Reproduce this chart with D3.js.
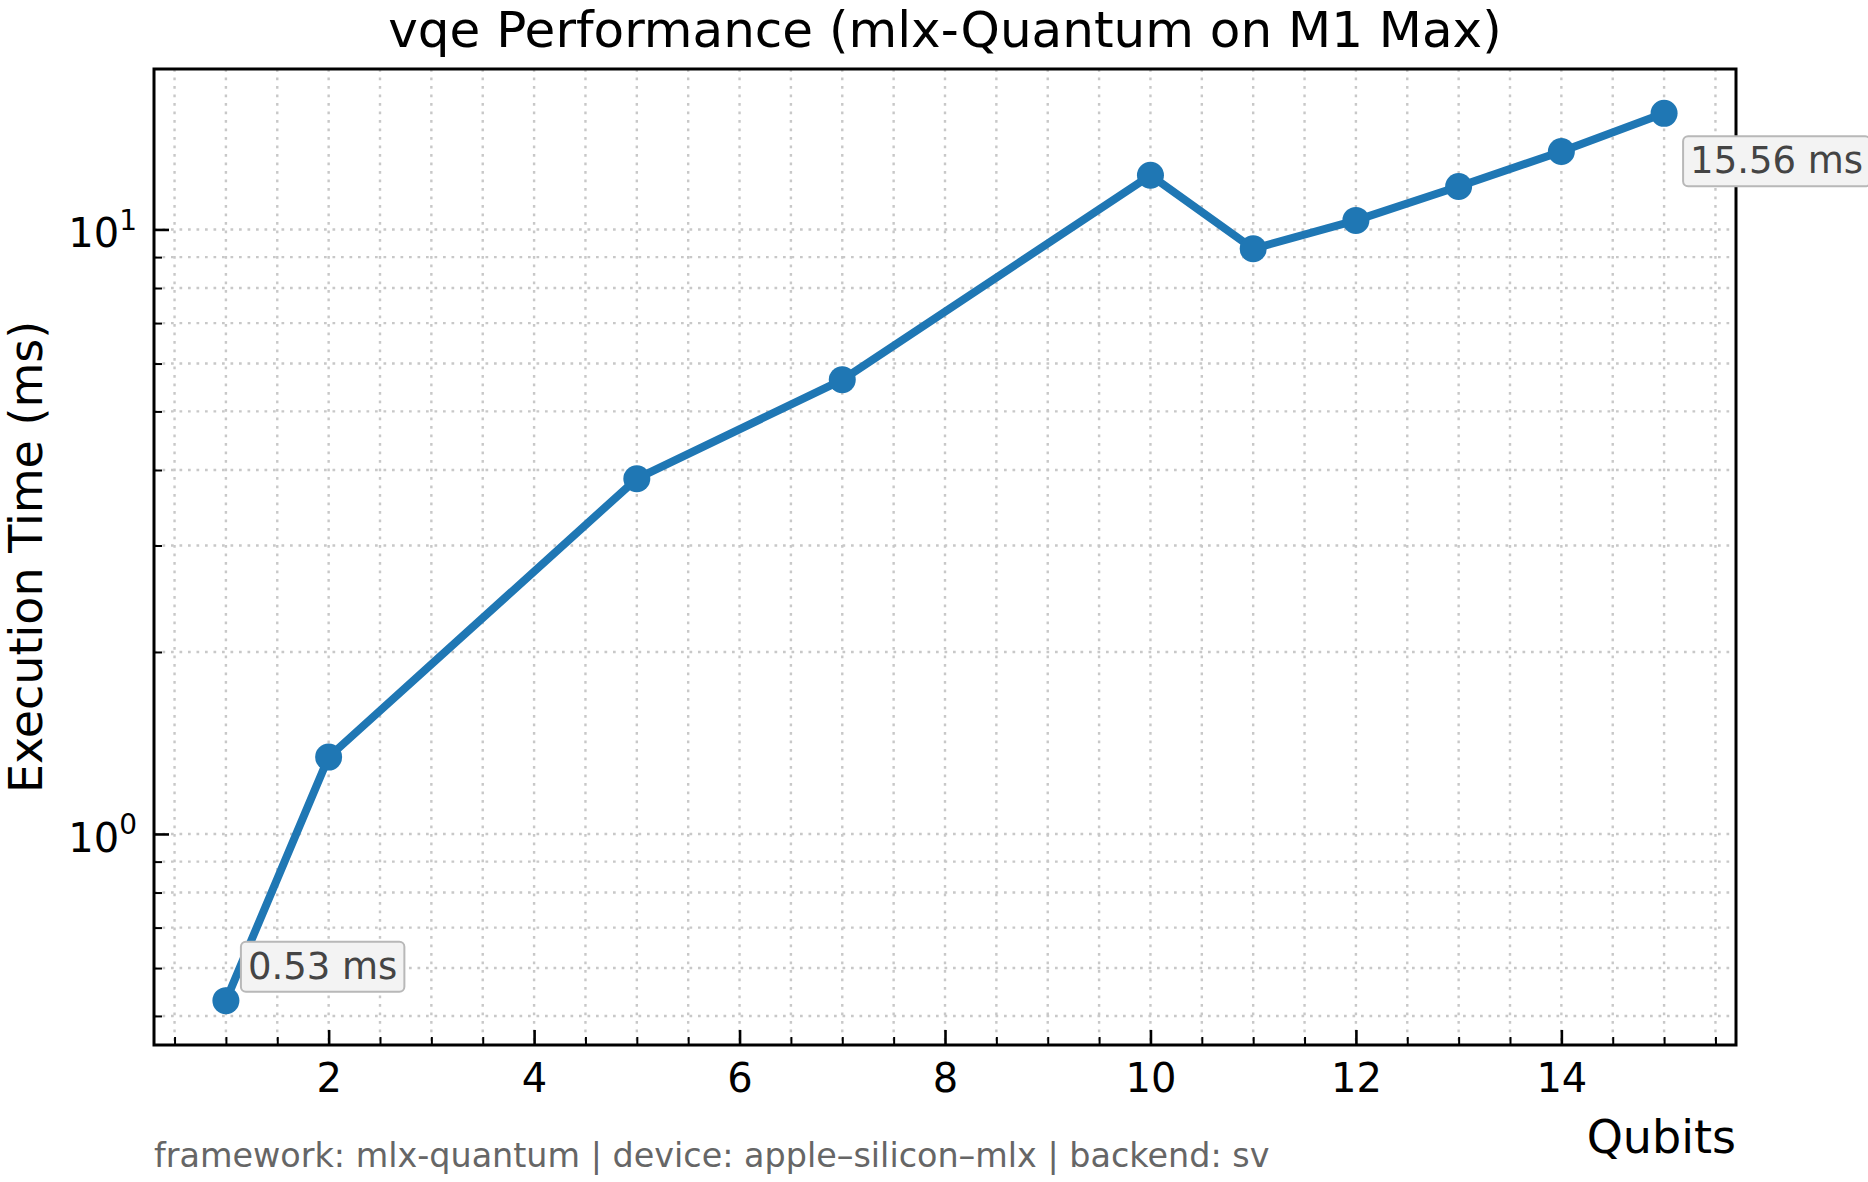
<!DOCTYPE html>
<html>
<head>
<meta charset="utf-8">
<script src="https://cdn.jsdelivr.net/npm/d3@7"></script>
<style>
  html, body { margin: 0; padding: 0; background: #fff; }
  svg { display: block; font-family: "DejaVu Sans", sans-serif; }
</style>
</head>
<body>
<div id="chart"></div>
<script>
// Data
const qubits = [1, 2, 5, 7, 10, 11, 12, 13, 14, 15]
const execTimes = [0.53, 1.34, 3.87, 5.64, 12.29, 9.29, 10.35, 11.78, 13.46, 15.56]
const xMajorTicks = [2, 4, 6, 8, 10, 12, 14]
const yMajorTicks = [1, 10]
const yMinorMantissas = [2, 3, 4, 5, 6, 7, 8, 9]
const chartTitle = "vqe Performance (mlx-Quantum on M1 Max)"
const xLabel = "Qubits"
const yLabel = "Execution Time (ms)"
const footerText = "framework: mlx-quantum | device: apple–silicon–mlx | backend: sv"

const dimensions = {
  width: 1868,
  height: 1182,
  margin: { top: 69, right: 132, bottom: 137, left: 154 }
}
dimensions.boundedWidth = dimensions.width - dimensions.margin.left - dimensions.margin.right
dimensions.boundedHeight = dimensions.height - dimensions.margin.top - dimensions.margin.bottom

const blue = "#1f77b4"
const gridColor = "#c8c8c8"

const data = qubits.map((q, i) => ({ q, t: execTimes[i] }))
const xAccessor = d => d.q
const yAccessor = d => d.t

// Scales with matplotlib-style 5% margins (log space for y)
const [xMin, xMax] = d3.extent(data, xAccessor)
const xPad = (xMax - xMin) * 0.05
const xScale = d3.scaleLinear()
  .domain([xMin - xPad, xMax + xPad])
  .range([0, dimensions.boundedWidth])

const [yLo, yHi] = d3.extent(data, yAccessor).map(Math.log10)
const yPad = (yHi - yLo) * 0.05
const yScale = d3.scaleLog()
  .domain([Math.pow(10, yLo - yPad), Math.pow(10, yHi + yPad)])
  .range([dimensions.boundedHeight, 0])

const xMinorTicks = d3.range(0.5, xScale.domain()[1], 0.5)
  .filter(v => v >= xScale.domain()[0] && !xMajorTicks.includes(v))
const yMinorTicks = [-1, 0, 1]
  .flatMap(k => yMinorMantissas.map(m => m * Math.pow(10, k)))
  .filter(v => v >= yScale.domain()[0] && v <= yScale.domain()[1])

// Draw canvas
const svg = d3.select("#chart").append("svg")
  .attr("width", dimensions.width)
  .attr("height", dimensions.height)

const bounds = svg.append("g")
  .attr("transform", `translate(${dimensions.margin.left},${dimensions.margin.top})`)

// Grid (major + minor, dotted)
const grid = bounds.append("g")
  .attr("stroke", gridColor)
  .attr("stroke-width", 2.4)
  .attr("stroke-dasharray", "2.7,5.8")
grid.selectAll(".vgrid")
  .data(xMajorTicks.concat(xMinorTicks))
  .join("line")
    .attr("x1", d => xScale(d)).attr("x2", d => xScale(d))
    .attr("y1", 0).attr("y2", dimensions.boundedHeight)
grid.selectAll(".hgrid")
  .data(yMajorTicks.concat(yMinorTicks))
  .join("line")
    .attr("y1", d => yScale(d)).attr("y2", d => yScale(d))
    .attr("x1", 0).attr("x2", dimensions.boundedWidth)

// Line + markers
const lineGenerator = d3.line()
  .x(d => xScale(xAccessor(d)))
  .y(d => yScale(yAccessor(d)))

bounds.append("path")
  .datum(data)
  .attr("d", lineGenerator)
  .attr("fill", "none")
  .attr("stroke", blue)
  .attr("stroke-width", 8)
  .attr("stroke-linejoin", "round")

bounds.selectAll(".marker")
  .data(data)
  .join("circle")
    .attr("cx", d => xScale(xAccessor(d)))
    .attr("cy", d => yScale(yAccessor(d)))
    .attr("r", 13.5)
    .attr("fill", blue)

// Axes (ticks pointing inward)
const styleAxis = g => {
  g.select(".domain").remove()
  g.attr("font-family", null).attr("font-size", null)
  g.selectAll(".tick line").attr("stroke", "#000")
}

bounds.append("g")
  .attr("transform", `translate(0,${dimensions.boundedHeight})`)
  .call(d3.axisBottom(xScale).tickValues(xMinorTicks).tickSizeInner(-8).tickSizeOuter(0).tickFormat(""))
  .call(styleAxis)
  .call(g => g.selectAll(".tick line").attr("stroke-width", 2))

bounds.append("g")
  .attr("transform", `translate(0,${dimensions.boundedHeight})`)
  .call(d3.axisBottom(xScale).tickValues(xMajorTicks).tickSizeInner(-15).tickSizeOuter(0).tickPadding(19))
  .call(styleAxis)
  .call(g => g.selectAll(".tick line").attr("stroke-width", 2.6))
  .call(g => g.selectAll(".tick text").attr("font-size", 40).attr("fill", "#000"))

bounds.append("g")
  .call(d3.axisLeft(yScale).tickValues(yMinorTicks).tickSizeInner(-8).tickSizeOuter(0).tickFormat(""))
  .call(styleAxis)
  .call(g => g.selectAll(".tick line").attr("stroke-width", 2))

bounds.append("g")
  .call(d3.axisLeft(yScale).tickValues(yMajorTicks).tickSizeInner(-15).tickSizeOuter(0).tickPadding(17))
  .call(styleAxis)
  .call(g => g.selectAll(".tick line").attr("stroke-width", 2.6))
  .call(g => g.selectAll(".tick text")
    .attr("font-size", 40)
    .attr("fill", "#000")
    .attr("dy", "0.43em")
    .text(null)
    .each(function (d) {
      const t = d3.select(this)
      t.append("tspan").text("10")
      t.append("tspan")
        .attr("font-size", 28)
        .attr("dy", "-0.62em")
        .text(Math.round(Math.log10(d)))
    }))

// Spines
bounds.append("rect")
  .attr("width", dimensions.boundedWidth)
  .attr("height", dimensions.boundedHeight)
  .attr("fill", "none")
  .attr("stroke", "#000")
  .attr("stroke-width", 3)

// Annotations for first and last points
const addLabel = (d, dx, dy) => {
  const g = bounds.append("g")
    .attr("transform", `translate(${xScale(xAccessor(d)) + dx},${yScale(yAccessor(d)) + dy})`)
  const rect = g.append("rect")
  const text = g.append("text")
    .attr("font-size", 37)
    .attr("fill", "#444")
    .text(`${d3.format(".2f")(yAccessor(d))} ms`)
  const box = text.node().getBBox()
  rect.attr("x", box.x - 7)
    .attr("y", box.y - 3)
    .attr("width", box.width + 14)
    .attr("height", box.height + 7)
    .attr("rx", 5)
    .attr("fill", "#f3f3f3")
    .attr("stroke", "#b8b8b8")
    .attr("stroke-width", 2)
}
addLabel(data[0], 22, -22)
addLabel(data[data.length - 1], 26, 60)

// Titles and labels
svg.append("text")
  .attr("x", dimensions.margin.left + dimensions.boundedWidth / 2)
  .attr("y", 47)
  .attr("text-anchor", "middle")
  .attr("font-size", 50)
  .attr("fill", "#000")
  .text(chartTitle)

svg.append("text")
  .attr("x", dimensions.margin.left + dimensions.boundedWidth)
  .attr("y", 1153)
  .attr("text-anchor", "end")
  .attr("font-size", 46)
  .attr("fill", "#000")
  .text(xLabel)

svg.append("text")
  .attr("transform", `translate(42,${dimensions.margin.top + dimensions.boundedHeight / 2}) rotate(-90)`)
  .attr("text-anchor", "middle")
  .attr("font-size", 46)
  .attr("fill", "#000")
  .text(yLabel)

svg.append("text")
  .attr("x", dimensions.margin.left)
  .attr("y", 1167)
  .attr("font-size", 33.4)
  .attr("fill", "#666")
  .text(footerText)
</script>
</body>
</html>
